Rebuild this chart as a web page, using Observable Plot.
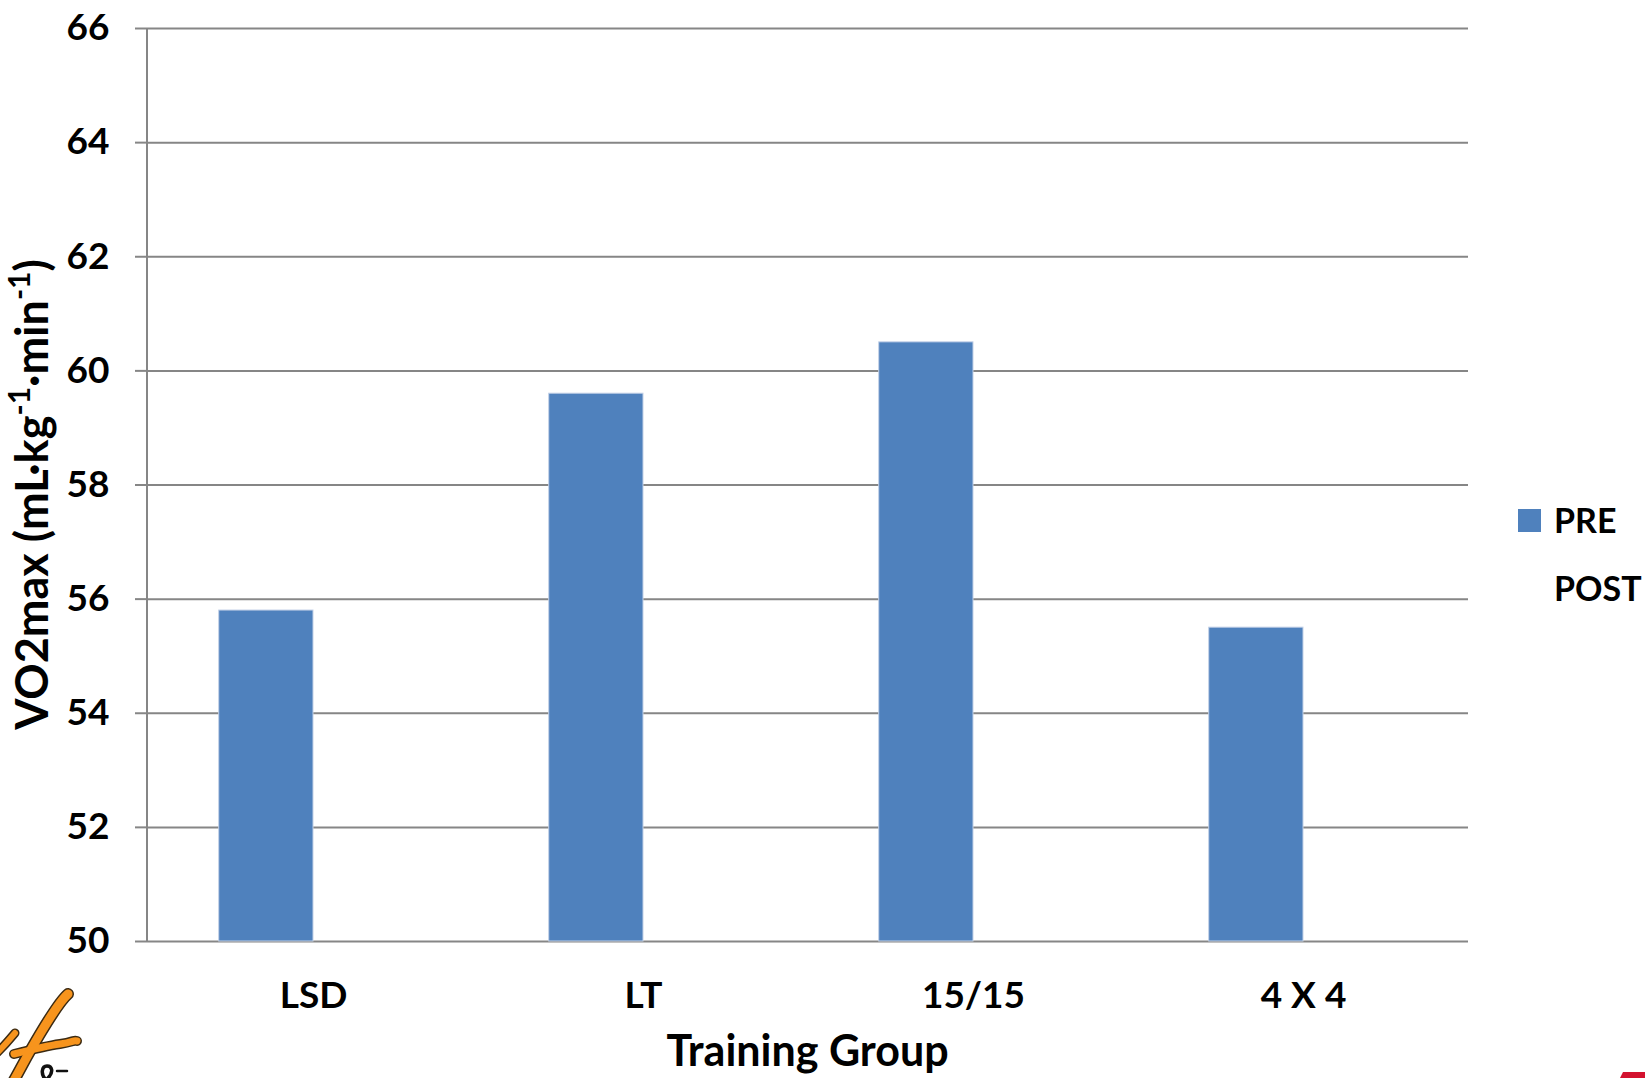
<!DOCTYPE html>
<html>
<head>
<meta charset="utf-8">
<script src="https://cdn.jsdelivr.net/npm/d3@7"></script>
<script src="https://cdn.jsdelivr.net/npm/@observablehq/plot@0.6"></script>
<style>
  html, body { margin: 0; padding: 0; background: #fff; }
  #chart { position: relative; width: 1645px; height: 1078px; overflow: hidden; }
</style>
</head>
<body>
<div id="chart"></div>
<script>
// Training groups and the two measurement series (POST not yet reported)
const groups = ["LSD", "LT", "15/15", "4 X 4"];
const series = ["PRE", "POST"];
const preValues = [55.8, 59.6, 60.5, 55.5];
const postValues = [null, null, null, null];
const yTicks = [50, 52, 54, 56, 58, 60, 62, 64, 66];
const seriesColors = ["#4f81bd", "none"];
const xTitle = "Training Group";

const rows = groups.flatMap((g, i) => [
  {group: g, series: "PRE", value: preValues[i]},
  {group: g, series: "POST", value: postValues[i]}
]).filter(d => d.value != null);

const W = 1645, H = 1078;
const M = {top: 28, right: 177, bottom: 137, left: 147};
const font = "Lato, 'Open Sans', sans-serif";
const labelSize = 37;
const legendSize = 34;
const titleSize = 45;
const gridColor = "#868686";
const yMin = yTicks[0], yMax = yTicks[yTicks.length - 1];

const plot = Plot.plot({
  width: W,
  height: H,
  marginTop: M.top,
  marginRight: M.right,
  marginBottom: M.bottom,
  marginLeft: M.left,
  style: {fontFamily: font, fontWeight: "bold", fontSize: `${labelSize}px`, color: "#000", background: "#fff", overflow: "visible"},
  fx: {domain: groups, padding: 0, label: null},
  x: {domain: series, paddingInner: 0, paddingOuter: 0.75, round: false, axis: null},
  y: {domain: [yMin, yMax], label: null},
  color: {domain: series, range: seriesColors},
  marks: [
    Plot.gridY(yTicks, {stroke: gridColor, strokeOpacity: 1, strokeWidth: 2}),
    Plot.barY(rows, {fx: "group", x: "series", y1: yMin, y2: "value", fill: "series", stroke: "#c3d1e7", strokeWidth: 1}),
    Plot.axisY(yTicks, {tickSize: 13, tickPadding: 26, stroke: gridColor, strokeWidth: 2, strokeOpacity: 1, fill: "#000", label: null, tickFormat: d => String(d)}),
    Plot.axisFx({anchor: "bottom", tickSize: 0, tickPadding: 40, fill: "#000", label: null})
  ]
});

document.getElementById("chart").appendChild(plot);

const svg = d3.select(plot);
const ys = plot.scale("y");
const y = d3.scaleLinear(ys.domain, ys.range);

// vertical value axis line
svg.append("line")
  .attr("x1", M.left).attr("x2", M.left)
  .attr("y1", y(yMax)).attr("y2", y(yMin))
  .attr("stroke", gridColor).attr("stroke-width", 2);

// axis titles
svg.append("text")
  .attr("x", M.left + (W - M.left - M.right) / 2)
  .attr("y", 1066)
  .attr("text-anchor", "middle")
  .attr("font-family", font).attr("font-weight", "bold").attr("font-size", titleSize - 2)
  .attr("fill", "#000")
  .text(xTitle);

const supSize = Math.round(titleSize * 0.66);
const supShift = Math.round(titleSize * 0.4);
const yt = svg.append("text")
  .attr("transform", `translate(48, ${(y(yMax) + y(yMin)) / 2 + 10}) rotate(-90)`)
  .attr("text-anchor", "middle")
  .attr("font-family", font).attr("font-weight", "bold").attr("font-size", titleSize)
  .attr("fill", "#000");
yt.append("tspan").text("VO2max (mL\u00b7kg");
yt.append("tspan").attr("font-size", supSize).attr("dy", -supShift).text("-1");
yt.append("tspan").attr("dy", supShift).text("\u00b7min");
yt.append("tspan").attr("font-size", supSize).attr("dy", -supShift).text("-1");
yt.append("tspan").attr("dy", supShift).text(")");

// legend
const legend = svg.append("g")
  .attr("font-family", font).attr("font-weight", "bold").attr("font-size", legendSize)
  .attr("text-anchor", "start");
series.forEach((s, i) => {
  const base = 533 + i * 68;
  legend.append("rect")
    .attr("x", W - M.right + 50).attr("y", base - 24)
    .attr("width", 23).attr("height", 23)
    .attr("fill", seriesColors[i]);
  legend.append("text")
    .attr("x", W - M.right + 86).attr("y", base)
    .attr("text-anchor", "start")
    .attr("fill", "#000")
    .text(s);
});

// corner logo marks
const logo = svg.append("g").attr("fill", "none").attr("stroke-linecap", "round");
const strokes = [
  {d: "M 68 994 C 62 999, 52 1014, 40 1034 S 22 1066, 12 1084", w: 9},
  {d: "M 14 1054 C 30 1050, 46 1046, 60 1044 S 73 1040, 77 1041", w: 7},
  {d: "M -4 1054 C 4 1046, 10 1039, 15 1033", w: 6}
];
strokes.forEach(s => {
  logo.append("path").attr("d", s.d).attr("stroke", "#3b2a12").attr("stroke-width", s.w + 3);
});
strokes.forEach(s => {
  logo.append("path").attr("d", s.d).attr("stroke", "#f7941d").attr("stroke-width", s.w);
});
logo.append("path")
  .attr("d", "M 46 1080 C 40 1074, 42 1066, 47 1066 C 52 1066, 54 1072, 48 1078")
  .attr("stroke", "#111").attr("stroke-width", 3.5);
logo.append("path")
  .attr("d", "M 57 1071 L 67 1071")
  .attr("stroke", "#111").attr("stroke-width", 2.5);

svg.append("path")
  .attr("d", "M 1623 1072 L 1645 1072 L 1645 1078 L 1620 1078 Z")
  .attr("fill", "#d3122f");
</script>
</body>
</html>
